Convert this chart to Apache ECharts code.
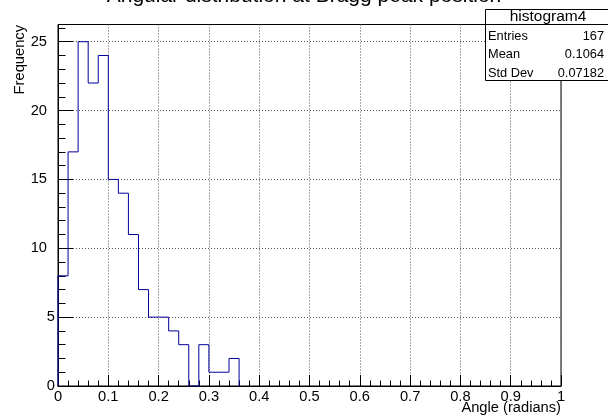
<!DOCTYPE html>
<html>
<head>
<meta charset="utf-8">
<script src="https://cdn.jsdelivr.net/npm/echarts@6/dist/echarts.min.js"></script>
<style>
html,body{margin:0;padding:0;background:#fff;}
#c{width:608px;height:419px;}
</style>
</head>
<body>
<div id="c"></div>
<script>
// ---- data ----
const binWidth = 0.02;
const binStarts = [0.00,0.02,0.04,0.06,0.08,0.10,0.12,0.14,0.16,0.18,0.20,0.22,0.24,0.26,0.28,0.30,0.32,0.34];
const counts    = [8,17,25,22,24,15,14,11,7,5,5,4,3,0,3,1,1,2];
const xTicks = [0,0.1,0.2,0.3,0.4,0.5,0.6,0.7,0.8,0.9,1];
const yTicks = [0,5,10,15,20,25];
const titleText = 'Angular distribution at Bragg peak position';
const xTitle = 'Angle (radians)';
const yTitle = 'Frequency';
const statsName = 'histogram4';
const statsLabels = ['Entries','Mean','Std Dev'];
const statsValues = ['167','0.1064','0.07182'];

// ---- build ----
const stepData = [[binStarts[0], 0]];
binStarts.forEach((x, i) => stepData.push([x, counts[i]]));
stepData.push([binStarts[binStarts.length - 1] + binWidth, 0]);

const FONT = '"Liberation Sans", Arial, Helvetica, sans-serif';
const chart = echarts.init(document.getElementById('c'), null, {renderer: 'canvas'});

const gridDots = {show: true, lineStyle: {color: '#555', type: [1, 2], width: 1}};

chart.setOption({
  animation: false,
  backgroundColor: '#fff',
  grid: {left: 58, right: 47, top: 24.5, bottom: 33, show: true, borderColor: '#000', borderWidth: 1, backgroundColor: 'transparent'},
  xAxis: [{
    type: 'value', min: 0, max: 1, interval: 0.1,
    axisLine: {show: true, onZero: false, lineStyle: {color: '#000', width: 1}},
    axisTick: {show: true, inside: true, length: 11, lineStyle: {color: '#000'}},
    minorTick: {show: true, splitNumber: 5, length: 5.5, lineStyle: {color: '#000'}},
    axisLabel: {color: '#000', fontFamily: FONT, fontSize: 14.7, margin: 3,
      formatter: v => { const r = Math.round(v * 10) / 10; return xTicks.indexOf(r) >= 0 ? String(r) : ''; }},
    splitLine: gridDots
  }],
  yAxis: [{
    type: 'value', min: 0, max: 26.25, interval: 5,
    axisLine: {show: true, onZero: false, lineStyle: {color: '#000', width: 1}},
    axisTick: {show: true, inside: true, length: 15, lineStyle: {color: '#000'}},
    axisLabel: {color: '#000', fontFamily: FONT, fontSize: 14.7, margin: 3, showMaxLabel: false,
      formatter: v => yTicks.indexOf(v) < 0 ? '' : (v >= 10 ? '{w|' + v + '}' : String(v)),
      rich: {w: {fontFamily: FONT, fontSize: 14.7, color: '#000', padding: [0, 8, 0, 0]}}},
    splitLine: {show: true, lineStyle: {color: '#555', type: [1, 2], width: 1}, showMaxLine: false}
  }, {
    type: 'value', min: 0, max: 26.25, interval: 1, position: 'left', offset: 0,
    axisLine: {show: false},
    axisTick: {show: true, inside: true, length: 7.5, lineStyle: {color: '#000'}},
    axisLabel: {show: false},
    splitLine: {show: false}
  }],
  series: [{
    type: 'line', step: 'end', data: stepData, showSymbol: false, symbol: 'none',
    lineStyle: {color: '#00009a', width: 1}, z: 5, clip: true, silent: true
  }],
  graphic: [
    {type: 'text', x: 304, y: -4, style: {text: titleText, font: '21px ' + FONT, fill: '#000', align: 'center', verticalAlign: 'middle'}},
    {type: 'text', x: 561, y: 408, style: {text: xTitle, font: '14.7px ' + FONT, fill: '#000', align: 'right', verticalAlign: 'middle'}},
    {type: 'text', x: 20, y: 25, rotation: Math.PI / 2, style: {text: yTitle, font: '14.7px ' + FONT, fill: '#000', align: 'right', verticalAlign: 'middle'}},
    {type: 'rect', z: 50, shape: {x: 485.5, y: 9.5, width: 130, height: 71}, style: {fill: '#fff', stroke: '#000', lineWidth: 1}},
    {type: 'line', z: 51, shape: {x1: 485.5, y1: 24.5, x2: 608, y2: 24.5}, style: {stroke: '#000', lineWidth: 1}},
    {type: 'text', z: 52, x: 548, y: 17, style: {text: statsName, font: '15.5px ' + FONT, fill: '#000', align: 'center', verticalAlign: 'middle'}},
    {type: 'text', z: 52, x: 488, y: 36.5, style: {text: statsLabels[0], font: '12.8px ' + FONT, fill: '#000', align: 'left', verticalAlign: 'middle'}},
    {type: 'text', z: 52, x: 488, y: 54.7, style: {text: statsLabels[1], font: '12.8px ' + FONT, fill: '#000', align: 'left', verticalAlign: 'middle'}},
    {type: 'text', z: 52, x: 488, y: 73, style: {text: statsLabels[2], font: '12.8px ' + FONT, fill: '#000', align: 'left', verticalAlign: 'middle'}},
    {type: 'text', z: 52, x: 604, y: 36.5, style: {text: statsValues[0], font: '12.8px ' + FONT, fill: '#000', align: 'right', verticalAlign: 'middle'}},
    {type: 'text', z: 52, x: 604, y: 54.7, style: {text: statsValues[1], font: '12.8px ' + FONT, fill: '#000', align: 'right', verticalAlign: 'middle'}},
    {type: 'text', z: 52, x: 604, y: 73, style: {text: statsValues[2], font: '12.8px ' + FONT, fill: '#000', align: 'right', verticalAlign: 'middle'}}
  ]
});
</script>
</body>
</html>
